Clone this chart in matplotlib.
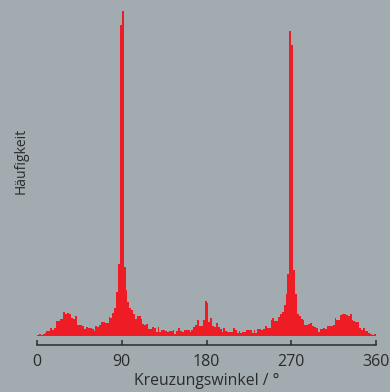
# Histogram of crossing angles (Kreuzungswinkel) in 2 degree bins

import numpy as np
import matplotlib
matplotlib.use('Agg')
import matplotlib.pyplot as plt

# counts per 2 degree bin, 0..360
counts = [
    1, 2, 1, 2, 3, 5, 5, 8, 6, 8,            # 0 - 18
    15, 15, 17, 17, 24, 22, 23, 22, 18, 17,  # 20 - 38
    20, 11, 11, 11, 10, 7, 9, 8, 8, 7,       # 40 - 58
    5, 10, 9, 11, 14, 14, 13, 13, 19, 18,    # 60 - 78
    23, 28, 44, 72, 311, 325, 69, 46, 34, 28,  # 80 - 98
    26, 22, 17, 20, 20, 17, 12, 11, 12, 7,   # 100 - 118
    7, 9, 8, 4, 9, 4, 6, 6, 5, 4,            # 120 - 138
    5, 5, 6, 2, 5, 8, 5, 4, 6, 6,            # 140 - 158
    6, 4, 6, 9, 11, 16, 10, 10, 16, 35,      # 160 - 178
    33, 14, 18, 10, 9, 13, 9, 7, 4, 8,       # 180 - 198
    5, 4, 4, 4, 8, 6, 3, 5, 3, 4,            # 200 - 218
    4, 6, 6, 6, 3, 6, 3, 7, 7, 6,            # 220 - 238
    7, 10, 8, 8, 16, 18, 15, 15, 19, 22,     # 240 - 258
    24, 31, 42, 62, 305, 291, 66, 42, 22, 20,  # 260 - 278
    17, 16, 11, 11, 12, 13, 10, 9, 8, 4,     # 280 - 298
    7, 7, 8, 7, 10, 10, 10, 11, 18, 16,      # 300 - 318
    16, 21, 22, 22, 21, 20, 22, 16, 15, 14,  # 320 - 338
    14, 8, 6, 8, 5, 5, 3, 2, 1, 2,           # 340 - 358
]
bin_width = 2
angle_ticks = [0, 90, 180, 270, 360]
x_label = 'Kreuzungswinkel / °'
y_label = 'Häufigkeit'

BG = '#a2abaf'
RED = '#ee1c25'
DARK = '#2b2b2b'

plt.rcParams['font.family'] = ['Open Sans', 'DejaVu Sans']

fig = plt.figure(figsize=(3.9, 3.92), dpi=100)
fig.patch.set_facecolor(BG)
ax = fig.add_axes([37 / 390, 56.3 / 392, 339 / 390, 330 / 392])
ax.set_facecolor(BG)

edges = np.arange(len(counts) + 1) * bin_width
ax.stairs(counts, edges, fill=True, color=RED, linewidth=0)

ax.set_xlim(0, 360)
ax.set_ylim(0, 330)

# only the bottom axis, pushed down below the bars
for side in ['left', 'top', 'right']:
    ax.spines[side].set_visible(False)
ax.spines['bottom'].set_position(('outward', 7))
ax.spines['bottom'].set_color(DARK)
ax.spines['bottom'].set_linewidth(1.1)

ax.set_xticks(angle_ticks)
ax.set_xticklabels([str(t) for t in angle_ticks])
ax.tick_params(axis='x', direction='in', length=3.6, width=1.1,
               color=DARK, labelcolor=DARK, labelsize=11.5, pad=6)
ax.set_yticks([])

ax.set_xlabel(x_label, fontsize=11.3, color=DARK, labelpad=2.5)
ax.set_ylabel(y_label, fontsize=10, color=DARK)
ax.yaxis.set_label_coords(-0.026, 0.53)

fig.savefig('out.png', dpi=100, facecolor=BG)
